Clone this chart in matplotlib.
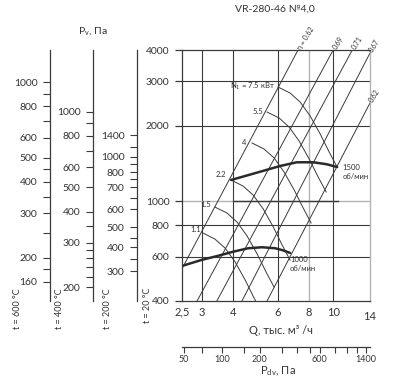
import matplotlib
matplotlib.use("Agg")
import matplotlib.pyplot as plt
import numpy as np
from matplotlib.ticker import NullLocator, NullFormatter

plt.rcParams['font.family'] = ['Lato', 'Noto Sans', 'DejaVu Sans']
plt.rcParams['mathtext.fontset'] = 'custom'
plt.rcParams['mathtext.rm'] = 'Lato'

# ---- data ----
q_ticks = [2.5, 3, 4, 6, 8, 10, 14]
q_labels = ['2,5', '3', '4', '6', '8', '10', '14']
p_ticks = [400, 600, 800, 1000, 2000, 3000, 4000]

# efficiency lines, end points (Q, P)
eta_labels = ['η = 0.62', '0.69', '0.71', '0.67', '0.62']
eta_q = [(2.52, 7.24), (2.87, 9.99), (3.44, 11.9), (4.33, 14.0), (5.45, 14.0)]
eta_p = [(546, 4000), (400, 4000), (400, 4000), (400, 3890), (400, 2460)]

# power curves
power_labels = [r'N$_\mathregular{1}$ = 7.5 кВт', '5.5', '4', '2.2', '1.5', '1.1']
power_q = [
    [6.03, 6.73, 7.38, 8.09, 8.87, 9.63, 10.36],
    [5.45, 6.09, 6.67, 7.31, 8.02, 8.71, 9.37],
    [4.75, 5.30, 5.82, 6.37, 6.99, 7.59, 8.16],
    [3.92, 4.37, 4.80, 5.26, 5.77, 6.26, 6.73],
    [3.38, 3.78, 4.14, 4.54, 4.98, 5.40, 5.81],
    [3.03, 3.38, 3.71, 4.07, 4.46, 4.84, 5.21],
]
power_p = [
    [2848, 2696, 2482, 2184, 1851, 1569, 1367],
    [2264, 2143, 1973, 1736, 1471, 1247, 1087],
    [1704, 1613, 1485, 1306, 1107, 939, 818],
    [1213, 1149, 1057, 931, 789, 668, 582],
    [947, 896, 825, 726, 615, 522, 455],
    [746, 706, 650, 572, 485, 411, 358],
]
power_label_off = [(-3, 1), (-4, 1), (-6, 1), (-5, 6), (-4, 3), (-2, 4)]

# fan curves
rpm_labels = ['1500\nоб/мин', '1000\nоб/мин']
rpm_q = [
    [3.92, 4.96, 6.14, 7.16, 8.34, 9.43, 10.36],
    [2.52, 2.99, 3.49, 4.00, 4.59, 5.20, 5.87, 6.30, 6.73],
]
rpm_p = [
    [1214, 1298, 1380, 1428, 1428, 1402, 1367],
    [553, 583, 606, 629, 649, 655, 649, 637, 622],
]

# pressure scales for other temperatures
t600_ticks = [160, 200, 300, 400, 500, 600, 800, 1000]
t600_minor = [180, 250, 350, 450, 700, 900]
t600_factor = 0.3356
t400_ticks = [200, 300, 400, 500, 600, 800, 1000]
t400_minor = [220, 240, 260, 280, 350, 700, 900]
t400_factor = 0.44
t200_ticks = [300, 400, 500, 600, 700, 800, 1000, 1400]
t200_at = [526, 656, 788, 930, 1138, 1306, 1499, 1834]   # where they sit on the 20 °C scale
t200_minor_at = [590, 715, 1030, 1220, 1400, 1650]

# dynamic pressure scale
pdv_coef = 7.71
pdv_major = [50, 100, 200, 600, 1400]
pdv_minor = [70, 150, 300, 400, 500, 800, 1000, 1200]

DARK = '#3a3a3a'
LIGHT = '#b4b4b4'
TXT = '#333333'

W, H = 395, 385
fig = plt.figure(figsize=(W / 100, H / 100), dpi=100)


def fx(x):
    return x / W


def fy(y):
    return 1 - y / H


ax = fig.add_axes([fx(182), fy(301), 188 / W, 251 / H])
ax.set_xscale('log')
ax.set_yscale('log')
ax.set_xlim(2.5, 14)
ax.set_ylim(400, 4000)

for s in ['left', 'bottom', 'top']:
    ax.spines[s].set_color(DARK)
    ax.spines[s].set_linewidth(0.9)
ax.spines['right'].set_color(LIGHT)
ax.spines['right'].set_linewidth(1.0)

ax.set_xticks(q_ticks, q_labels)
ax.set_yticks(p_ticks, [str(v) for v in p_ticks])
ax.xaxis.set_minor_locator(NullLocator())
ax.yaxis.set_minor_locator(NullLocator())
ax.tick_params(axis='x', length=0, pad=4, labelsize=8, labelcolor=TXT)
ax.tick_params(axis='y', length=5, width=0.9, color=DARK, pad=4, labelsize=7.5, labelcolor=TXT)
ax.xaxis.get_major_ticks()[-1].set_pad(7.5)

# grid
for q in [3, 4, 6, 10]:
    ax.axvline(q, color=DARK, lw=0.8)
ax.axvline(8, color=LIGHT, lw=1.0)
for p in [600, 800, 2000, 3000]:
    ax.axhline(p, color=DARK, lw=0.8)
ax.axhline(1000, color=LIGHT, lw=1.0)
ax.plot([4, 10.4], [1000, 1000], color=DARK, lw=1.0)

# efficiency lines
for lab, qq, pp in zip(eta_labels, eta_q, eta_p):
    ax.plot(qq, pp, color=DARK, lw=0.7)
    ax.annotate(lab, xy=(qq[1], pp[1]), xytext=(1, 1), textcoords='offset pixels',
                rotation=58, rotation_mode='anchor', ha='left', va='center',
                fontsize=5, color=TXT, annotation_clip=False)

# power curves
for lab, qq, pp, off in zip(power_labels, power_q, power_p, power_label_off):
    ax.plot(qq, pp, color=DARK, lw=0.7)
    ax.annotate(lab, xy=(qq[0], pp[0]), xytext=off, textcoords='offset pixels',
                ha='right', va='center', fontsize=5.5, color=TXT)

# fan curves
for lab, qq, pp, off in zip(rpm_labels, rpm_q, rpm_p, [(5, 3), (0, -3)]):
    ax.plot(qq, pp, color='#2a2a2a', lw=1.8, solid_capstyle='round')
    ax.annotate(lab, xy=(qq[-1], pp[-1]), xytext=off, textcoords='offset pixels',
                ha='left', va='top', fontsize=5.5, color=TXT, linespacing=1.4)

# extra pressure axes at other temperatures
def temp_axis(loc, at, labels, minor_at):
    sec = ax.secondary_yaxis(loc)
    sec.set_yticks(at, labels)
    sec.set_yticks(minor_at, minor=True)
    sec.yaxis.set_minor_formatter(NullFormatter())
    sec.spines['left'].set_color(DARK)
    sec.spines['left'].set_linewidth(0.9)
    sec.tick_params(which='both', length=5, width=0.8, color=DARK, pad=4,
                    labelsize=7.5, labelcolor=TXT)
    return sec


temp_axis((50 - 182) / 188, [v / t600_factor for v in t600_ticks],
          [str(v) for v in t600_ticks], [v / t600_factor for v in t600_minor])
temp_axis((93 - 182) / 188, [v / t400_factor for v in t400_ticks],
          [str(v) for v in t400_ticks], [v / t400_factor for v in t400_minor])
temp_axis((137 - 182) / 188, t200_at, [str(v) for v in t200_ticks], t200_minor_at)

for x, t in zip([18, 59, 107, 148], ['600', '400', '200', '20']):
    fig.text(fx(x), fy(288), f't = {t} °C', rotation=90, ha='center', va='top',
             fontsize=6.5, color=TXT)

# dynamic pressure axis
sx = ax.secondary_xaxis(-46 / 251, functions=(lambda q: pdv_coef * np.abs(q) ** 2,
                                                lambda p: np.sqrt(np.abs(p) / pdv_coef)))
sx.set_xticks(pdv_major, [str(v) for v in pdv_major])
sx.set_xticks(pdv_minor, minor=True)
sx.xaxis.set_minor_formatter(NullFormatter())
sx.spines['bottom'].set_color(DARK)
sx.spines['bottom'].set_linewidth(0.9)
sx.tick_params(which='major', length=4, width=0.8, color=DARK, pad=1.5, labelsize=6.5, labelcolor=TXT)
sx.tick_params(which='minor', length=4, width=0.8, color=DARK)

fig.text(fx(275), fy(9), 'VR-280-46 №4,0', ha='center', va='center', fontsize=7.5, color=TXT)
fig.text(fx(93), fy(32), r'P$_\mathregular{v}$, Па', ha='center', va='center', fontsize=7.5, color=TXT)
fig.text(fx(281), fy(330), 'Q, тыс. м³ /ч', ha='center', va='center', fontsize=8, color=TXT)
fig.text(fx(278), fy(371), r'P$_\mathregular{dv}$, Па', ha='center', va='center', fontsize=8, color=TXT)

fig.savefig('out.png', dpi=100, facecolor='white')
